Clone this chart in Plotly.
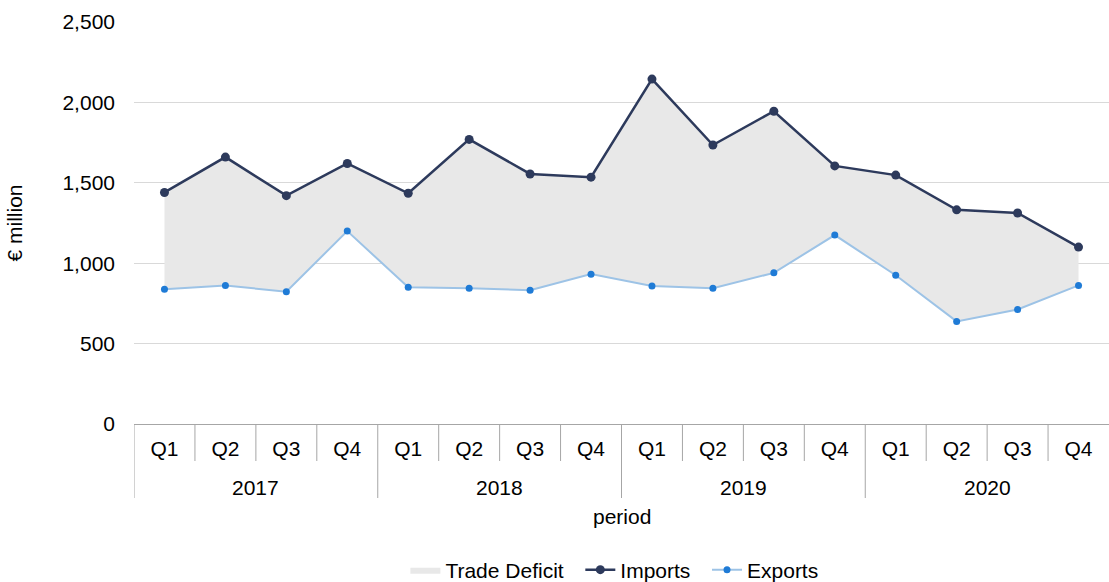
import plotly.graph_objects as go

years = ["2017", "2018", "2019", "2020"]
quarters = ["Q1", "Q2", "Q3", "Q4"]
imports = [1440, 1660, 1420, 1620, 1435, 1770, 1555, 1535,
           2145, 1735, 1945, 1605, 1548, 1332, 1312, 1100]
exports = [838, 862, 822, 1200, 850, 844, 832, 932,
           858, 844, 940, 1175, 925, 638, 712, 862]

cats = [f"{y} {q}" for y in years for q in quarters]
qlabels = [q for y in years for q in quarters]

FONT = "Liberation Sans, Arial, sans-serif"
FS = 21
NAVY = "#2d3a5c"
LIGHT = "#9dc3e6"
BLUE = "#1f7bd6"
AXIS = "#a6a6a6"
PLOT_H = 402
PAD = "\u00a0\u00a0"

fig = go.Figure()
fig.add_trace(go.Scatter(x=cats, y=exports, mode="lines", line=dict(width=0),
                         showlegend=False, hoverinfo="skip"))
fig.add_trace(go.Scatter(x=cats, y=imports, mode="lines", fill="tonexty",
                         fillcolor="#e8e8e8", line=dict(width=0, color="#e8e8e8"),
                         name="Trade Deficit" + PAD))
fig.add_trace(go.Scatter(x=cats, y=imports, mode="lines+markers", name="Imports" + PAD,
                         line=dict(color=NAVY, width=2.5),
                         marker=dict(color=NAVY, size=9)))
fig.add_trace(go.Scatter(x=cats, y=exports, mode="lines+markers", name="Exports",
                         line=dict(color=LIGHT, width=2),
                         marker=dict(color=BLUE, size=7)))

# axis category separators (short between quarters, long between years)
nq = len(quarters)
for i in range(len(cats)):
    long_line = (i % nq == 0)
    fig.add_shape(type="line", xref="x", yref="paper",
                  x0=i - 0.5, x1=i - 0.5, y0=0,
                  y1=-(74 if long_line else 37) / PLOT_H,
                  line=dict(color=AXIS, width=1))
# year labels
for k, y in enumerate(years):
    fig.add_annotation(text=y, xref="x", yref="paper",
                       x=k * nq + (nq - 1) / 2, y=-63 / PLOT_H,
                       showarrow=False, yanchor="middle",
                       font=dict(size=FS, family=FONT, color="#000000"))
# x-axis title
fig.add_annotation(text="period", xref="paper", yref="paper", x=0.5,
                   y=-92 / PLOT_H, showarrow=False, yanchor="middle",
                   font=dict(size=FS, family=FONT, color="#000000"))

fig.update_layout(
    width=1109, height=582,
    margin=dict(l=134, r=0, t=22, b=158),
    paper_bgcolor="white", plot_bgcolor="white",
    font=dict(family=FONT, size=FS, color="#000000"),
    showlegend=True,
    legend=dict(orientation="h", xref="container", yref="container",
                x=0.554, xanchor="center", y=12 / 582, yanchor="middle",
                font=dict(size=FS), traceorder="normal", itemwidth=30),
    xaxis=dict(type="category", range=[-0.5, len(cats) - 0.5],
               tickmode="array", tickvals=cats, ticktext=qlabels,
               showline=True, linecolor=AXIS, linewidth=1,
               ticks="", showgrid=False, automargin=False, ticklabelstandoff=6),
    yaxis=dict(range=[0, 2500], dtick=500, tickformat=",", showgrid=True,
               gridcolor="#d9d9d9", gridwidth=1, zeroline=False, showline=False,
               ticks="", ticklabelstandoff=18,
               title=dict(text="€ million", font=dict(size=FS), standoff=34),
               automargin=False),
)

fig.write_html("out.html", config={"displayModeBar": False},
               post_script="document.body.style.margin='0';")
